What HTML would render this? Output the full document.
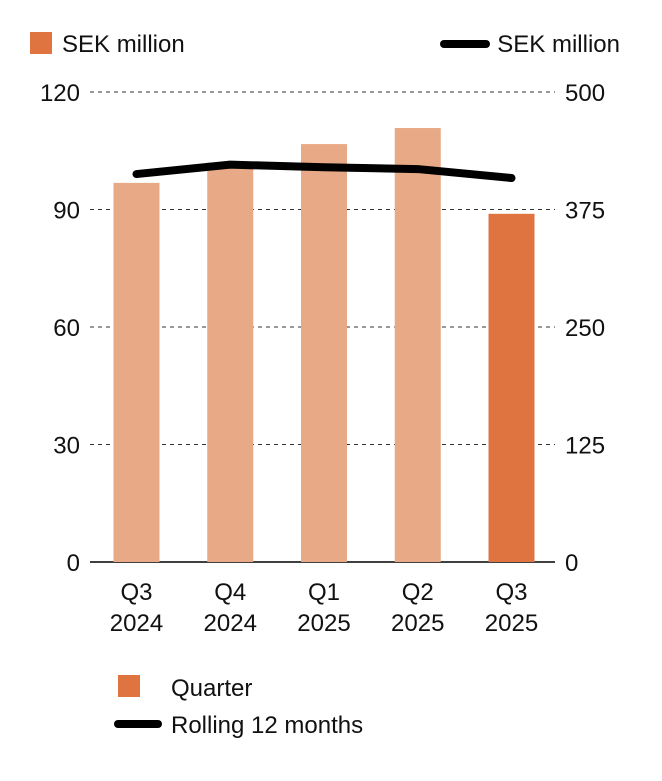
<!DOCTYPE html>
<html><head><meta charset="utf-8"><style>
body{margin:0;background:#fff;width:662px;height:776px;overflow:hidden}
svg{font-family:"Liberation Sans Narrow","Liberation Sans",sans-serif;}
</style></head><body>
<svg id="chart" width="662" height="776" viewBox="0 0 662 776" xmlns="http://www.w3.org/2000/svg">
<rect x="30" y="32" width="22" height="22" fill="#e07440"/>
<text x="62" y="52" font-size="24" fill="#111">SEK million</text>
<line x1="444" y1="44" x2="486" y2="44" stroke="#000" stroke-width="8" stroke-linecap="round"/>
<text x="620" y="52" font-size="24" fill="#111" text-anchor="end">SEK million</text>
<g id="grid"></g><g id="bars"></g><g id="line"></g><g id="labels"></g>
<rect x="118" y="675" width="22" height="22" fill="#e07440"/>
<text x="171" y="696" font-size="24" fill="#111">Quarter</text>
<line x1="118" y1="724" x2="158" y2="724" stroke="#000" stroke-width="8" stroke-linecap="round"/>
<text x="171" y="733" font-size="24" fill="#111">Rolling 12 months</text>
</svg>
<script>
const categories=[["Q3","2024"],["Q4","2024"],["Q1","2025"],["Q2","2025"],["Q3","2025"]];
const quarterValues=[96.8,102,106.7,110.8,88.9];
const rollingValues=[412.7,422.7,420,418,408.5];
const leftTicks=[0,30,60,90,120];
const rightTicks=[0,125,250,375,500];
const NS="http://www.w3.org/2000/svg";
const y0=562,y1=92,x0=90,xEnd=555;
const yL=v=>y0-(v/120)*(y0-y1);
const yR=v=>y0-(v/500)*(y0-y1);
const xC=i=>136.5+i*93.75;
function mk(t,a,p){const e=document.createElementNS(NS,t);for(const k in a)e.setAttribute(k,a[k]);p.appendChild(e);return e;}
const grid=document.getElementById('grid'),bars=document.getElementById('bars'),line=document.getElementById('line'),labels=document.getElementById('labels');
leftTicks.forEach((v,i)=>{
 const y=yL(v);
 const g=mk('line',{x1:x0,x2:xEnd,y1:y,y2:y,stroke:i==0?'#000':'#333','stroke-width':i==0?1.5:1,'stroke-dasharray':i==0?'none':'4,4'},grid);
 
 
 const t=mk('text',{x:80,y:y+9,'font-size':24,'text-anchor':'end',fill:'#111'},labels);t.textContent=v;
 
 
});
rightTicks.forEach(v=>{
 const t=mk('text',{x:565,y:yR(v)+9,'font-size':24,fill:'#111'},labels);t.textContent=v;
 
 
});
quarterValues.forEach((v,i)=>{
 const last=i==quarterValues.length-1;
 const r=mk('rect',{x:xC(i)-23,y:yL(v),width:46,height:y0-yL(v),fill:last?'#e07440':'#e8a986'},bars);
 
 
 categories[i].forEach((s,j)=>{
  const t=mk('text',{x:xC(i),y:600+j*31,'font-size':24,'text-anchor':'middle',fill:'#111'},labels);t.textContent=s;
  
  
 });
});
const p=mk('polyline',{points:rollingValues.map((v,i)=>xC(i)+','+yR(v)).join(' '),fill:'none',stroke:'#000','stroke-width':8,'stroke-linecap':'round','stroke-linejoin':'round'},line);


</script>
</body></html>
